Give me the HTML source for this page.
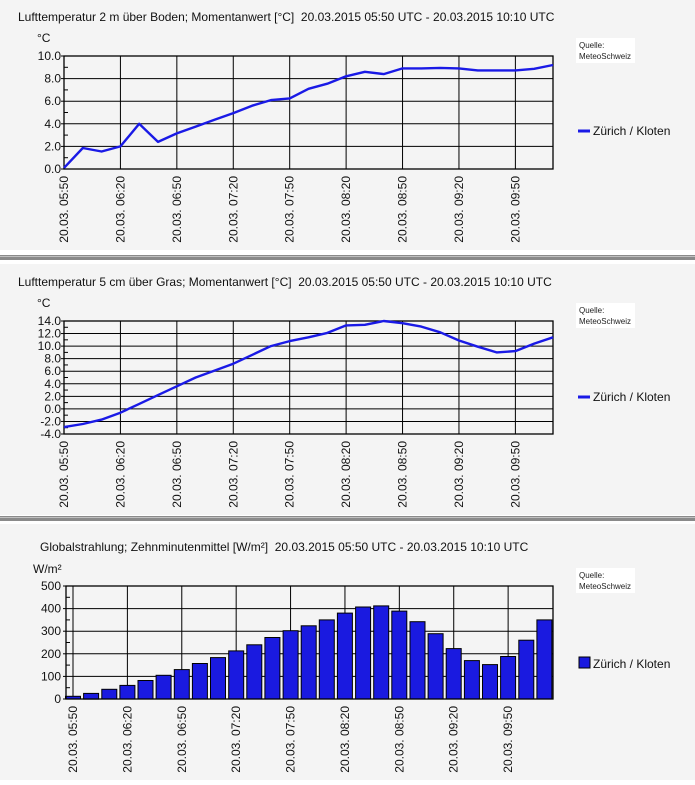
<!DOCTYPE html>
<html><head><meta charset="utf-8"><style>
body{margin:0;background:#fff;}
svg{display:block;font-family:"Liberation Sans",Arial,sans-serif;}
</style></head><body>
<svg id="s" width="695" height="785" xmlns="http://www.w3.org/2000/svg">
<rect x="0" y="0" width="695" height="785" fill="#fff"/>
<rect x="0" y="0" width="695" height="250" fill="#f4f4f4"/>
<rect x="0" y="255" width="695" height="5" fill="#8a8a8a"/>
<rect x="0" y="256" width="695" height="1" fill="#c0c0c0"/>
<rect x="0" y="264" width="695" height="251" fill="#f4f4f4"/>
<rect x="0" y="516" width="695" height="5" fill="#8a8a8a"/>
<rect x="0" y="517" width="695" height="1" fill="#c0c0c0"/>
<rect x="0" y="524" width="695" height="256" fill="#f4f4f4"/>
<g id="g"></g>
</svg>
<script>
const g=document.getElementById('g');let h='';
const T=(x,y,t,o)=>{h+=`<text x="${x}" y="${y}" ${o||''}>${t}</text>`;};
const L=(x1,y1,x2,y2,c,w)=>{h+=`<line x1="${x1}" y1="${y1}" x2="${x2}" y2="${y2}" stroke="${c||'#000'}" stroke-width="${w||1}"/>`;};
const times=["05:50","06:20","06:50","07:20","07:50","08:20","08:50","09:20","09:50"];
function quelle(y){h+=`<rect x="576" y="${y}" width="59" height="25" fill="#fff"/>`;T(579,y+10,"Quelle:",'font-size="8" fill="#222"');T(579,y+21,"MeteoSchweiz",'font-size="8" fill="#222"');}
function xlabels(x0,dx,ytop){times.forEach((t,i)=>{const x=x0+i*dx;h+=`<text transform="translate(${x+4},${ytop}) rotate(-90)" text-anchor="end" font-size="12" fill="#111">20.03. ${t}</text>`;});}
function lineChart(o){
 const {x0,x1,y0,y1,min,max,step,title,ty,data,leg,qy}=o;
 T(18,ty,title,'font-size="12" fill="#111"');
 T(37,ty+21,"°C",'font-size="12" fill="#111"');
 const n=(max-min)/step, py=(y1-y0)/n;
 for(let i=0;i<=n;i++){const y=y1-i*py;L(x0,y,x1,y);T(61,y+4,(min+i*step).toFixed(1),'font-size="12" text-anchor="end" fill="#111"');if(i<n)L(x0,y-py/2,x0+4,y-py/2);L(x0-3,y,x0,y);}
 const dx=(x1-x0)/26;
 for(let i=0;i<9;i++){L(x0+i*3*dx,y0,x0+i*3*dx,y1);}
 h+=`<rect x="${x0}" y="${y0}" width="${x1-x0}" height="${y1-y0}" fill="none" stroke="#000" stroke-width="1.3"/>`;
 const pts=data.map((v,i)=>`${(x0+i*dx).toFixed(1)},${(y1-(v-min)/(max-min)*(y1-y0)).toFixed(1)}`).join(' ');
 h+=`<polyline points="${pts}" fill="none" stroke="#1a1ae6" stroke-width="2.4" stroke-linejoin="round"/>`;
 xlabels(x0,3*dx,y1+7);
 quelle(qy);
 L(578,leg,590,leg,'#1a1ae6',3);T(593,leg+4,"Zürich / Kloten",'font-size="12" fill="#111"');
}
lineChart({x0:64,x1:553,y0:56,y1:169,min:0,max:10,step:2,ty:21,title:"Lufttemperatur 2 m über Boden; Momentanwert [°C]&#160; 20.03.2015 05:50 UTC - 20.03.2015 10:10 UTC",
data:[0.1,1.86,1.55,2.0,4.0,2.4,3.15,3.75,4.35,4.95,5.6,6.1,6.25,7.1,7.55,8.2,8.6,8.4,8.9,8.9,8.95,8.9,8.73,8.73,8.73,8.87,9.2],leg:131,qy:38});
lineChart({x0:64,x1:553,y0:321,y1:434,min:-4,max:14,step:2,ty:286,title:"Lufttemperatur 5 cm über Gras; Momentanwert [°C]&#160; 20.03.2015 05:50 UTC - 20.03.2015 10:10 UTC",
data:[-2.9,-2.4,-1.7,-0.6,0.8,2.2,3.6,5.0,6.1,7.2,8.6,10.0,10.8,11.4,12.1,13.3,13.4,14.0,13.65,13.1,12.2,10.9,9.9,9.0,9.2,10.4,11.4],leg:397,qy:303});
// bar chart
(function(){
 const x0=66,x1=553,y0=586,y1=699;
 T(40,551,"Globalstrahlung; Zehnminutenmittel [W/m²]&#160; 20.03.2015 05:50 UTC - 20.03.2015 10:10 UTC",'font-size="12" fill="#111"');
 T(33,573,"W/m²",'font-size="12" fill="#111"');
 const py=(y1-y0)/5;
 for(let i=0;i<=5;i++){const y=y1-i*py;L(x0,y,x1,y);T(61,y+4,i*100,'font-size="12" text-anchor="end" fill="#111"');if(i<5)L(x0,y-py/2,x0+4,y-py/2);L(x0-3,y,x0,y);}
 const dx=18.13,bx=73;
 for(let i=0;i<9;i++)L(bx+i*3*dx,y0,bx+i*3*dx,y1);
 const d=[12,25,43,60,82,105,130,157,183,213,240,272,302,324,350,380,407,412,389,342,289,223,170,152,188,260,350];
 d.forEach((v,i)=>{const x=bx+i*dx-7.5,hh=v/500*(y1-y0);h+=`<rect x="${x.toFixed(1)}" y="${(y1-hh).toFixed(1)}" width="15" height="${hh.toFixed(1)}" fill="#1a1ae0" stroke="#000" stroke-width="1"/>`;});
 h+=`<rect x="${x0}" y="${y0}" width="${x1-x0}" height="${y1-y0}" fill="none" stroke="#000" stroke-width="1.3"/>`;
 xlabels(bx,3*dx,y1+7);
 quelle(568);
 h+=`<rect x="579" y="657" width="11" height="11" fill="#1a1ae0" stroke="#000"/>`;T(593,668,"Zürich / Kloten",'font-size="12" fill="#111"');
})();
g.innerHTML=h;
</script>
</body></html>
